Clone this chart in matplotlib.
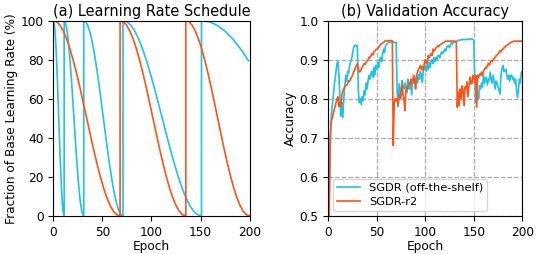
import numpy as np
import matplotlib.pyplot as plt

# learning-rate profile inside one cycle (percent of base LR)
cycle_profile = [100, 99.4, 97.6, 94.6, 90.5, 85.4, 79.4, 72.7, 65.5, 57.8, 50,
                 42.2, 34.5, 27.3, 20.6, 14.6, 9.5, 5.4, 2.4, 0.6, 0]
# restart epochs of each schedule (last entry = end of the running cycle)
sgdr_restarts = [0, 11, 31, 71, 151, 311]
r2_restarts = [0, 68, 135, 200]

# validation accuracy, one value per epoch (epochs 1..200)
sgdr_acc = [
    0.55, 0.68, 0.75, 0.78, 0.80, 0.83, 0.85, 0.87, 0.89, 0.895,
    0.86, 0.80, 0.755, 0.79, 0.752, 0.80, 0.83, 0.86, 0.845, 0.87,
    0.865, 0.885, 0.895, 0.90, 0.915, 0.93, 0.935, 0.937, 0.935, 0.936,
    0.82, 0.79, 0.80, 0.785, 0.805, 0.795, 0.82, 0.81, 0.84, 0.825,
    0.845, 0.86, 0.85, 0.865, 0.87, 0.855, 0.88, 0.86, 0.885, 0.875,
    0.893, 0.88, 0.90, 0.906, 0.895, 0.915, 0.927, 0.918, 0.935, 0.94,
    0.94, 0.944, 0.944, 0.945, 0.944, 0.945, 0.944, 0.945, 0.944, 0.944,
    0.816, 0.78, 0.838, 0.82, 0.80, 0.846, 0.83, 0.825, 0.84, 0.83,
    0.816, 0.85, 0.835, 0.825, 0.84, 0.81, 0.85, 0.84, 0.85, 0.83,
    0.855, 0.84, 0.862, 0.85, 0.87, 0.86, 0.842, 0.87, 0.88, 0.885,
    0.87, 0.89, 0.875, 0.893, 0.88, 0.895, 0.90, 0.89, 0.905, 0.895,
    0.906, 0.90, 0.91, 0.91, 0.905, 0.915, 0.92, 0.915, 0.92, 0.927,
    0.922, 0.93, 0.935, 0.936, 0.93, 0.938, 0.943, 0.94, 0.945, 0.946,
    0.945, 0.947, 0.948, 0.95, 0.949, 0.95, 0.951, 0.951, 0.952, 0.951,
    0.952, 0.952, 0.951, 0.952, 0.953, 0.952, 0.953, 0.953, 0.952, 0.95,
    0.85, 0.79, 0.80, 0.816, 0.80, 0.833, 0.825, 0.84, 0.83, 0.86,
    0.84, 0.85, 0.855, 0.835, 0.85, 0.846, 0.868, 0.85, 0.84, 0.86,
    0.845, 0.825, 0.845, 0.84, 0.83, 0.82, 0.812, 0.86, 0.875, 0.885,
    0.87, 0.87, 0.876, 0.86, 0.85, 0.86, 0.845, 0.86, 0.86, 0.85,
    0.855, 0.84, 0.85, 0.825, 0.803, 0.82, 0.85, 0.84, 0.868, 0.87,
]
r2_acc = [
    0.50, 0.70, 0.74, 0.75, 0.76, 0.77, 0.78, 0.79, 0.80, 0.805,
    0.78, 0.79, 0.78, 0.81, 0.82, 0.825, 0.83, 0.833, 0.835, 0.838,
    0.846, 0.845, 0.85, 0.855, 0.86, 0.868, 0.872, 0.88, 0.885, 0.89,
    0.875, 0.868, 0.87, 0.876, 0.88, 0.885, 0.89, 0.888, 0.893, 0.896,
    0.90, 0.906, 0.905, 0.91, 0.915, 0.912, 0.92, 0.922, 0.926, 0.927,
    0.928, 0.932, 0.935, 0.94, 0.94, 0.943, 0.944, 0.946, 0.949, 0.948,
    0.948, 0.949, 0.948, 0.948, 0.949, 0.948, 0.68, 0.787, 0.80, 0.795,
    0.80, 0.785, 0.81, 0.80, 0.82, 0.838, 0.81, 0.80, 0.77, 0.82,
    0.83, 0.825, 0.84, 0.835, 0.85, 0.84, 0.845, 0.86, 0.85, 0.825,
    0.86, 0.868, 0.875, 0.88, 0.885, 0.875, 0.882, 0.872, 0.89, 0.90,
    0.895, 0.89, 0.91, 0.905, 0.912, 0.915, 0.91, 0.927, 0.922, 0.925,
    0.93, 0.932, 0.936, 0.934, 0.938, 0.94, 0.94, 0.943, 0.944, 0.946,
    0.947, 0.947, 0.948, 0.947, 0.947, 0.948, 0.947, 0.947, 0.948, 0.947,
    0.947, 0.946, 0.778, 0.816, 0.782, 0.825, 0.80, 0.833, 0.82, 0.782,
    0.83, 0.825, 0.843, 0.805, 0.83, 0.855, 0.84, 0.838, 0.86, 0.85,
    0.843, 0.86, 0.778, 0.86, 0.855, 0.863, 0.86, 0.868, 0.86, 0.87,
    0.875, 0.88, 0.878, 0.885, 0.89, 0.886, 0.893, 0.897, 0.895, 0.90,
    0.903, 0.906, 0.91, 0.912, 0.915, 0.918, 0.923, 0.92, 0.925, 0.927,
    0.93, 0.932, 0.935, 0.936, 0.938, 0.94, 0.942, 0.944, 0.945, 0.946,
    0.947, 0.947, 0.948, 0.947, 0.947, 0.948, 0.947, 0.947, 0.948, 0.947,
]

c_sgdr = '#1ec3e8'
c_r2 = '#ff5317'


def schedule(restarts, stop=200):
    xs, ys = [], []
    for s, e in zip(restarts[:-1], restarts[1:]):
        x = np.linspace(s, e, len(cycle_profile))
        keep = x <= stop
        xs.extend(x[keep])
        ys.extend(np.array(cycle_profile)[keep])
    return xs, ys


plt.rcParams['font.size'] = 8.7
fig = plt.figure(figsize=(5.39, 2.54), dpi=100)
ax1 = fig.add_axes([0.099, 0.15, 0.364, 0.769])
ax2 = fig.add_axes([0.609, 0.15, 0.360, 0.769])

x, y = schedule(sgdr_restarts)
ax1.plot(x, y, color=c_sgdr, lw=1.2)
x, y = schedule(r2_restarts)
ax1.plot(x, y, color=c_r2, lw=1.2)
ax1.set_xlim(0, 200)
ax1.set_ylim(0, 100)
ax1.set_xticks([0, 50, 100, 150, 200])
ax1.set_yticks([0, 20, 40, 60, 80, 100])
ax1.set_xlabel("Epoch", labelpad=1)
ax1.set_ylabel("Fraction of Base Learning Rate (%)", labelpad=2)
ax1.set_title("(a) Learning Rate Schedule", pad=3)

epochs = np.arange(1, len(sgdr_acc) + 1)
ax2.plot(epochs, sgdr_acc, color=c_sgdr, lw=1.2, label="SGDR (off-the-shelf)")
ax2.plot(epochs, r2_acc, color=c_r2, lw=1.2, label="SGDR-r2")
ax2.set_xlim(0, 200)
ax2.set_ylim(0.5, 1.0)
ax2.set_xticks([0, 50, 100, 150, 200])
ax2.set_yticks([0.5, 0.6, 0.7, 0.8, 0.9, 1.0])
ax2.grid(color='#aaaaaa', linestyle='--', lw=0.9)
ax2.set_xlabel("Epoch", labelpad=1)
ax2.set_ylabel("Accuracy", labelpad=2)
ax2.set_title("(b) Validation Accuracy", pad=3)
ax2.legend(loc='lower left', fontsize=8.2, borderaxespad=0.45,
           handlelength=2.0, labelspacing=0.35, borderpad=0.35)

plt.savefig("out.png")
